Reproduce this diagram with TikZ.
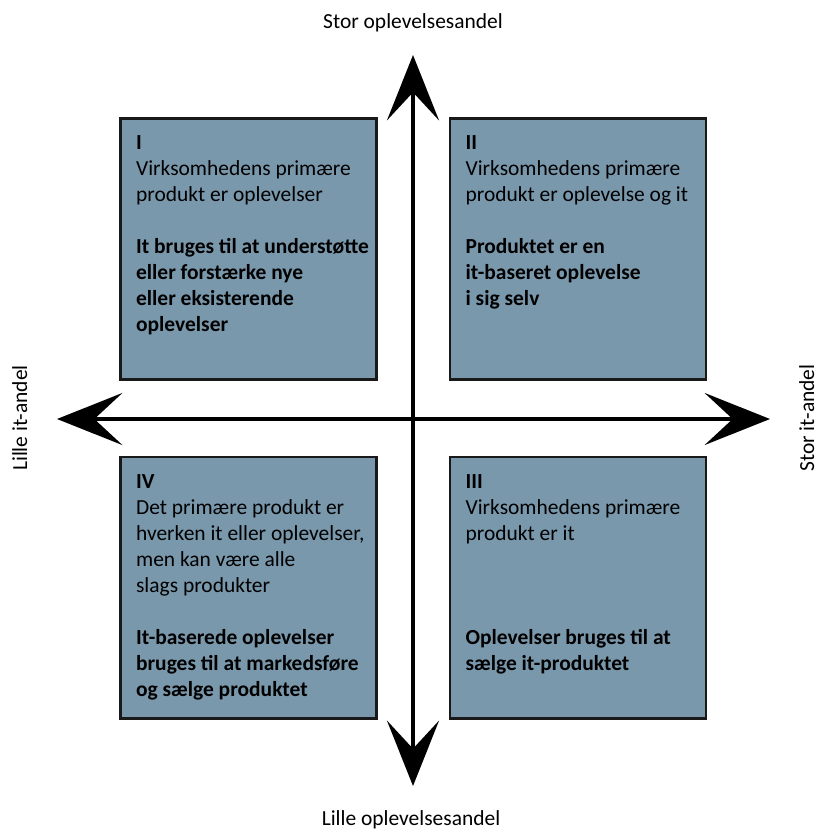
\documentclass[tikz,border=0pt]{standalone}
\usepackage{fontspec}
\setmainfont{Carlito}
\usepackage{tikz}
\usetikzlibrary{arrows.meta}
\definecolor{feltblaa}{RGB}{122,152,172}
\definecolor{kant}{RGB}{25,25,25}
\newcommand{\felt}[4]{\node[felt] (#1) at (#2,#3) {}; \node[felttekst] (#1tekst) at ([xshift=11.7pt,yshift=-13.2pt]#1.north west) {#4};}

\begin{document}
\begin{tikzpicture}[x=0.75pt,y=-0.75pt,
    every node/.style={font=\fontsize{16.1}{19.5}\selectfont, inner sep=0pt, outer sep=0pt},
    felt/.style={draw=kant, line width=2pt, fill=feltblaa, minimum width=192pt, minimum height=196pt},
    felttekst/.style={anchor=north west, align=left},
    akse/.style={line width=2.6pt, {Stealth[length=49pt,width=39pt,inset=21pt]}-{Stealth[length=49pt,width=39pt,inset=21pt]}}]
    \useasboundingbox (0,0) rectangle (820,829);
    % kvadranterne
    \felt{I}{248.5}{249}{\textbf{I}\\Virksomhedens primære\\produkt er oplevelser\\[19.5pt]\textbf{It bruges til at understøtte}\\\textbf{eller forstærke nye}\\\textbf{eller eksisterende}\\\textbf{oplevelser}}
    \felt{II}{578}{249}{\textbf{II}\\Virksomhedens primære\\produkt er oplevelse og it\\[19.5pt]\textbf{Produktet er en}\\\textbf{it-baseret oplevelse}\\\textbf{i sig selv}}
    \felt{IV}{248.5}{587.5}{\textbf{IV}\\Det primære produkt er\\hverken it eller oplevelser,\\men kan være alle\\slags produkter\\[19.5pt]\textbf{It-baserede oplevelser}\\\textbf{bruges til at markedsføre}\\\textbf{og sælge produktet}}
    \felt{III}{578}{587.5}{\textbf{III}\\Virksomhedens primære\\produkt er it\\[58.5pt]\textbf{Oplevelser bruges til at}\\\textbf{sælge it-produktet}}
    % akserne
    \coordinate (top) at (413,55);
    \coordinate (bund) at (413,786);
    \coordinate (venstre) at (57,419);
    \coordinate (hoejre) at (770,419);
    \draw[akse] (bund) -- (top);
    \draw[akse] (venstre) -- (hoejre);
    % aksetekster
    \node[anchor=base] (storoplevelse) at (413,28) {Stor oplevelsesandel};
    \node[anchor=base] (lilleoplevelse) at (411,825) {Lille oplevelsesandel};
    \node[anchor=base, rotate=90] (lilleit) at (27,418) {Lille it-andel};
    \node[anchor=base, rotate=90] (storit) at (814,418) {Stor it-andel};
\end{tikzpicture}
\end{document}
